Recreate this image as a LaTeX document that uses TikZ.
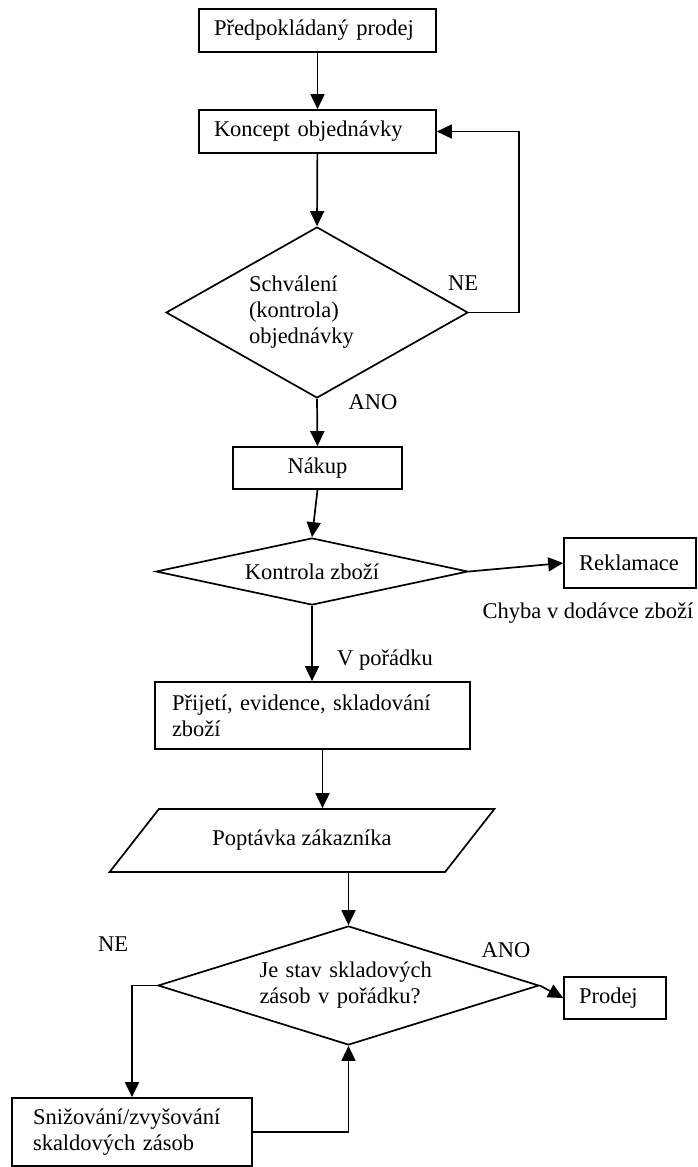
\documentclass[tikz,border=0pt]{standalone}
\usepackage{fontspec}
\setmainfont{Liberation Serif}
\usepackage{tikz}
\usetikzlibrary{positioning,calc
  ,shapes.geometric
  ,arrows.meta}
\tikzset{
  flowpic/.style={
    x=1pt,y=-1pt
    ,line width=1.7pt
    ,>={Triangle[length=15pt,width=14pt]}
    ,font=\fontsize{22.5}{26}\selectfont
  }
  ,krok/.style={draw,rectangle,inner xsep=15pt,inner ysep=0pt,align=left}
  ,rozhod/.style={draw,diamond,inner sep=0pt,align=left}
  ,vstup/.style={draw,trapezium,trapezium left angle=33.5,trapezium right angle=146.5
    ,trapezium stretches=true,inner sep=0pt}
  ,popis/.style={inner sep=0pt}
}

\begin{document}
\begin{tikzpicture}[flowpic]
  \useasboundingbox (0,0) rectangle (697,1167);
  % objednavka
  \node[krok,minimum width=237,minimum height=43,text width=207] (predprodej) at (317.5,30.5) {Předpokládaný prodej};
  \node[krok,minimum width=237,minimum height=43,text width=207] (koncept) at (317.5,131.5) {Koncept objednávky};
  \node[rozhod,minimum width=302,minimum height=171,aspect=1.77,text width=136] (schvaleni) at (317,312.5)
    {Schválení\\(kontrola)\\objednávky};
  \node[krok,align=center,minimum width=169,minimum height=42,text width=139] (nakup) at (317.5,468) {Nákup};
  % kontrola zbozi
  \node[rozhod,align=center,minimum width=312,minimum height=67,aspect=4.66] (kontrola) at (312,571.5) {Kontrola zboží};
  \node[krok,minimum width=132,minimum height=50,text width=102] (reklamace) at (630,563) {Reklamace};
  \node[krok,inner xsep=17pt,minimum width=315,minimum height=67,text width=281] (prijeti) at (312.5,715.5)
    {Přijetí, evidence, skladování\\zboží};
  % prodej
  \node[vstup,minimum width=386,minimum height=63] (poptavka) at (302,840.5) {Poptávka zákazníka};
  \node[rozhod,minimum width=381,minimum height=119,aspect=3.2,text width=178] (stav) at (348.5,985.5)
    {Je stav skladových\\zásob v pořádku?};
  \node[krok,minimum width=102,minimum height=42,text width=72] (prodej) at (615,998) {Prodej};
  \node[krok,inner xsep=21pt,minimum width=240,minimum height=68,text width=198] (zasoby) at (132,1132)
    {Snižování/zvyšování\\skaldových zásob};

  % popisky
  \node[popis] (ne1) at (463,283) {NE};
  \node[popis] (ano1) at (373,402) {ANO};
  \node[popis] (chyba) at (588,613) {Chyba v dodávce zboží};
  \node[popis] (vporadku) at (385,660) {V pořádku};
  \node[popis] (ne2) at (113,944) {NE};
  \node[popis] (ano2) at (506,950) {ANO};

  % sipky
  \draw[->] (predprodej) -- (koncept);
  \draw[->] (koncept) -- (schvaleni.north);
  \draw[->] (schvaleni.east) -- ++(50,0) |- (koncept.east);
  \draw[->] (schvaleni.south) -- (nakup.north);
  \draw[->] (nakup.south) -- (kontrola.north);
  \draw[->] (kontrola.east) -- (reklamace.west);
  \draw[->] (kontrola.south) -- (kontrola.south |- prijeti.north);
  \draw[->] ([xshift=10pt]prijeti.south) -- ([xshift=10pt]prijeti.south |- poptavka.north);
  \draw[->] (poptavka.south -| stav.north) -- (stav.north);
  \draw[->] (stav.east) -- (prodej.west);
  \draw[->] (stav.west) -| (zasoby.north);
  \draw[->] (zasoby.east) -| (stav.south);
\end{tikzpicture}
\end{document}
